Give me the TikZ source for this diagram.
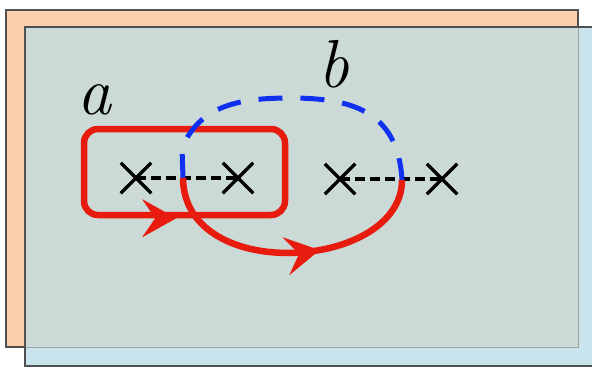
\documentclass[tikz,border=0pt]{standalone}
\usepackage{fontspec}
\usepackage{xcolor}
\usepackage{tikz}
\usetikzlibrary{arrows.meta,shapes.misc,decorations.markings}

\definecolor{sheetorange}{RGB}{250,206,170}
\definecolor{sheetblue}{RGB}{201,228,237}
\definecolor{sheetmix}{RGB}{204,218,215}
\definecolor{sheetedge}{RGB}{80,80,80}
\definecolor{loopred}{RGB}{232,28,14}
\definecolor{pathblue}{RGB}{16,48,240}

\begin{document}
\begin{tikzpicture}[x=1pt,y=-1pt,
    site/.style={cross out, draw=black, line width=3.5pt, minimum size=27pt, inner sep=0pt},
    link/.style={dash pattern=on 10pt off 5pt, line width=3.4pt},
    redloop/.style={draw=loopred, line width=6.5pt},
    wilson/.style={draw=pathblue, line width=5pt, dash pattern=on 24pt off 18pt},
    midtip/.style={decoration={markings, mark=at position #1 with
        {\arrow[loopred]{Stealth[length=34pt,width=38pt,inset=13pt]}}}, postaction={decorate}},
    lbl/.style={font=\fontsize{68}{68}\selectfont\itshape, inner sep=0pt}]
    \useasboundingbox (0,0) rectangle (592,367);
    % the two sheets
    \filldraw[fill=sheetorange, draw=sheetedge, line width=1.5pt] (6,10) rectangle (578,347);
    \fill[sheetblue] (25,27) rectangle (595,366);
    \fill[sheetmix] (25,27) rectangle (578,347);
    \draw[sheetmix!75!black, line width=1pt] (25,347) -| (578,27);
    \draw[sheetedge, line width=1.5pt] (595,27) -- (25,27) -- (25,366) -- (595,366);
    % lattice sites
    \node[site] (s1) at (136,178) {};
    \node[site] (s2) at (238,178) {};
    \node[site] (s3) at (340,179) {};
    \node[site] (s4) at (442,179) {};
    \draw[link] (s1.center) -- (s2.center);
    \draw[link] (s3.center) -- (s4.center);
    \coordinate (p) at (183,178);
    \coordinate (q) at (402,180);
    % loop a
    \node[redloop, rounded corners=14pt, minimum width=201pt, minimum height=86pt] (boxa) at (184.5,172) {};
    \path[midtip=0.46] (boxa.south west) -- (boxa.south east);
    \node[lbl] (la) at (94,100) {a};
    % path b
    \draw[wilson] (p) -- (182,148) .. controls (200,105) and (240,98) .. (290,98)
        .. controls (350,98) and (398,110) .. (q);
    \node[lbl] (lb) at (334,64) {b};
    \draw[redloop, midtip=0.6] (p) .. controls (184,285) and (402,270) .. (q);
\end{tikzpicture}
\end{document}
